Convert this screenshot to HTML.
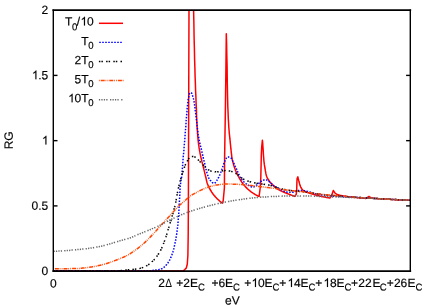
<!DOCTYPE html>
<html><head><meta charset="utf-8"><title>plot</title>
<style>
html,body{margin:0;padding:0;background:#fff;}
svg{display:block;}
text{font-family:"Liberation Sans",sans-serif;font-size:12px;fill:#000;stroke:#000;stroke-width:0.18px;}
.s{font-size:9.6px;}
.h{fill:none;stroke:none;}
.g{fill:#000;stroke:#000;stroke-width:30;}
</style></head><body>
<svg width="436" height="305" viewBox="0 0 436 305">
<rect x="0" y="0" width="436" height="305" fill="#fff"/>
<defs><clipPath id="c"><rect x="53.3" y="10.15" width="357.0" height="261.0"/></clipPath></defs>
<g clip-path="url(#c)" fill="none" stroke-width="1.5" stroke-linejoin="round">
<polyline stroke="#ff0000" points="53.5,271.1 183.0,271.1 184.8,269.6 186.3,268.0 187.3,264.0 187.9,255.0 188.2,235.0 188.4,200.0 188.7,100.0 189.0,10.0 190.8,-400.0 193.6,10.0 193.9,24.2 194.1,37.2 194.4,48.9 194.6,59.2 194.9,68.2 195.1,76.4 195.4,83.9 195.6,90.8 195.9,96.9 196.1,103.0 196.4,109.4 196.6,116.3 196.9,122.5 197.1,127.2 197.4,131.2 197.6,134.7 197.9,137.8 198.1,140.3 198.4,142.5 198.6,144.5 198.9,146.2 199.1,147.9 199.4,149.4 199.6,150.8 199.9,152.2 200.1,153.6 200.4,154.8 200.6,156.0 200.9,157.2 201.2,158.2 201.4,159.3 201.7,160.4 201.9,161.4 202.2,162.5 202.4,163.5 202.7,164.5 202.9,165.6 203.2,166.6 203.4,167.6 203.7,168.6 203.9,169.6 204.2,170.6 204.4,171.6 204.7,172.6 204.9,173.6 205.2,174.7 205.4,175.7 205.7,176.7 205.9,177.8 206.2,178.9 206.4,180.1 206.7,181.2 206.9,182.2 207.2,183.0 207.4,183.7 207.7,184.4 208.0,185.0 208.2,185.7 208.5,186.2 208.7,186.8 209.0,187.3 209.2,187.8 209.5,188.3 209.7,188.8 210.0,189.2 210.2,189.7 210.5,190.1 210.7,190.5 211.0,190.9 211.2,191.3 211.5,191.7 211.7,192.1 212.0,192.5 212.2,192.9 212.5,193.2 212.7,193.6 213.0,193.9 213.2,194.3 213.5,194.6 213.7,194.9 214.0,195.2 214.2,195.5 214.5,195.8 214.7,196.1 215.0,196.4 215.3,196.7 215.5,197.0 215.8,197.3 216.0,197.5 216.3,197.8 216.5,198.1 216.8,198.3 217.0,198.6 217.3,198.8 217.5,199.1 217.8,199.3 218.0,199.5 218.3,199.8 218.5,200.0 218.8,200.2 219.0,200.5 219.3,200.7 219.5,200.9 219.8,201.1 220.0,201.4 220.3,201.6 220.5,201.8 220.8,202.0 221.0,202.2 221.3,202.4 221.5,202.6 221.8,202.8 222.0,203.0 222.3,203.2 223.2,200.7 224.4,187.8 224.6,158.0 225.3,115.0 225.9,70.0 226.3,33.7 226.6,43.2 226.8,54.3 227.1,66.8 227.3,83.4 227.6,98.2 227.8,106.4 228.1,113.0 228.3,118.6 228.6,123.3 228.8,127.3 229.1,130.7 229.3,133.5 229.6,135.9 229.8,138.2 230.1,140.6 230.3,143.1 230.6,145.7 230.8,148.2 231.1,150.5 231.3,152.7 231.6,154.9 231.8,156.8 232.1,158.3 232.3,159.7 232.6,160.9 232.8,161.9 233.1,162.9 233.3,163.8 233.6,164.7 233.8,165.5 234.1,166.3 234.3,167.1 234.6,167.8 234.8,168.5 235.1,169.1 235.3,169.8 235.6,170.4 235.8,171.0 236.1,171.6 236.3,172.1 236.6,172.7 236.8,173.2 237.1,173.8 237.3,174.3 237.6,174.8 237.8,175.3 238.1,175.8 238.3,176.3 238.6,176.8 238.8,177.2 239.1,177.7 239.3,178.1 239.6,178.5 239.8,179.0 240.1,179.4 240.3,179.8 240.6,180.2 240.8,180.6 241.1,181.0 241.3,181.4 241.6,181.7 241.8,182.1 242.1,182.5 242.3,182.8 242.6,183.2 242.8,183.5 243.1,183.8 243.3,184.2 243.6,184.5 243.8,184.8 244.1,185.1 244.3,185.4 244.6,185.7 244.8,186.0 245.1,186.3 245.3,186.6 245.6,186.8 245.8,187.1 246.1,187.4 246.3,187.6 246.6,187.9 246.8,188.1 247.1,188.4 247.3,188.6 247.6,188.8 247.8,189.1 248.1,189.3 248.3,189.5 248.6,189.8 248.8,190.0 249.1,190.2 249.3,190.4 249.6,190.6 249.8,190.8 250.1,191.0 250.3,191.2 250.6,191.4 250.8,191.6 251.1,191.8 251.3,192.0 251.6,192.1 251.8,192.3 252.1,192.5 252.3,192.7 252.6,192.8 252.8,193.0 253.1,193.2 253.3,193.3 253.6,193.5 253.8,193.7 254.1,193.8 254.3,194.0 254.6,194.1 254.8,194.3 255.1,194.5 255.3,194.6 255.6,194.7 255.8,194.9 256.1,195.0 256.3,195.2 256.6,195.3 256.8,195.4 257.1,195.6 257.3,195.7 257.6,195.8 257.8,195.9 258.1,196.1 258.3,196.2 258.6,196.3 258.8,196.4 259.1,196.5 260.2,188.0 260.8,178.0 261.1,165.0 261.3,155.0 261.7,147.0 262.4,140.2 262.7,143.2 262.9,146.6 263.2,150.4 263.4,154.6 263.7,158.0 263.9,160.8 264.2,163.1 264.4,164.9 264.7,166.5 264.9,168.0 265.2,169.5 265.4,170.9 265.7,172.4 265.9,173.7 266.2,174.9 266.4,175.8 266.7,176.5 266.9,177.1 267.2,177.6 267.4,178.1 267.7,178.6 267.9,179.0 268.2,179.4 268.4,179.8 268.7,180.2 268.9,180.6 269.2,181.0 269.4,181.3 269.7,181.7 269.9,182.0 270.2,182.3 270.4,182.6 270.7,182.9 270.9,183.2 271.2,183.5 271.4,183.8 271.7,184.0 271.9,184.3 272.2,184.6 272.4,184.8 272.7,185.1 272.9,185.3 273.2,185.6 273.5,185.8 273.7,186.0 274.0,186.3 274.2,186.5 274.5,186.7 274.7,186.9 275.0,187.1 275.2,187.3 275.5,187.5 275.7,187.7 276.0,187.9 276.2,188.1 276.5,188.3 276.7,188.4 277.0,188.6 277.2,188.8 277.5,188.9 277.7,189.1 278.0,189.2 278.2,189.4 278.5,189.5 278.7,189.7 279.0,189.8 279.2,190.0 279.5,190.1 279.7,190.2 280.0,190.4 280.2,190.5 280.5,190.6 280.7,190.8 281.0,190.9 281.2,191.0 281.5,191.1 281.7,191.2 282.0,191.4 282.2,191.5 282.5,191.6 282.7,191.7 283.0,191.8 283.2,191.9 283.5,192.0 283.7,192.1 284.0,192.3 284.3,192.4 284.5,192.5 284.8,192.6 285.0,192.7 285.3,192.8 285.5,192.9 285.8,193.0 286.0,193.1 286.3,193.2 286.5,193.3 286.8,193.4 287.0,193.5 287.3,193.6 287.5,193.7 287.8,193.8 288.0,193.9 288.3,194.0 288.5,194.0 288.8,194.1 289.0,194.2 289.3,194.3 289.5,194.4 289.8,194.5 290.0,194.6 290.3,194.7 290.5,194.8 290.8,194.9 291.0,195.0 291.3,195.1 291.5,195.2 291.8,195.3 292.0,195.4 292.3,195.5 292.5,195.6 292.8,195.7 293.0,195.7 293.3,195.8 293.5,195.9 293.8,196.0 294.0,196.1 294.3,196.2 294.5,196.3 294.8,196.4 296.2,194.3 296.7,190.0 296.9,182.0 297.1,178.5 297.9,176.9 298.1,178.1 298.4,179.2 298.6,180.2 298.9,181.2 299.1,182.1 299.4,183.0 299.6,183.9 299.9,184.8 300.1,185.6 300.4,186.3 300.6,186.8 300.9,187.3 301.1,187.8 301.4,188.2 301.6,188.6 301.9,189.0 302.1,189.3 302.4,189.6 302.6,189.9 302.9,190.1 303.1,190.3 303.4,190.5 303.6,190.7 303.9,190.9 304.1,191.0 304.4,191.2 304.6,191.3 304.9,191.4 305.1,191.5 305.4,191.7 305.6,191.8 305.9,191.9 306.1,192.0 306.4,192.1 306.6,192.2 306.9,192.3 307.1,192.4 307.4,192.4 307.6,192.5 307.9,192.6 308.1,192.7 308.4,192.8 308.6,192.9 308.9,192.9 309.1,193.0 309.4,193.1 309.6,193.2 309.9,193.3 310.1,193.3 310.4,193.4 310.6,193.5 310.9,193.6 311.1,193.7 311.4,193.8 311.6,193.8 311.9,193.9 312.1,194.0 312.4,194.1 312.6,194.1 312.9,194.2 313.1,194.3 313.4,194.4 313.6,194.4 313.9,194.5 314.1,194.6 314.4,194.7 314.6,194.7 314.9,194.8 315.1,194.9 315.4,195.0 315.6,195.0 315.9,195.1 316.1,195.2 316.4,195.2 316.6,195.3 316.9,195.4 317.1,195.4 317.4,195.5 317.6,195.5 317.9,195.6 318.1,195.7 318.4,195.7 318.6,195.8 318.9,195.8 319.1,195.9 319.4,196.0 319.6,196.0 319.9,196.1 320.1,196.1 320.4,196.2 320.6,196.2 320.9,196.3 321.1,196.4 321.4,196.4 321.6,196.5 321.9,196.5 322.1,196.6 322.4,196.6 322.6,196.7 322.9,196.7 323.1,196.8 323.4,196.8 323.6,196.9 323.9,196.9 324.1,197.0 324.4,197.0 324.6,197.1 324.9,197.1 325.1,197.2 325.4,197.2 325.6,197.3 325.9,197.3 326.1,197.4 326.4,197.4 326.6,197.5 326.9,197.5 327.1,197.6 327.4,197.6 327.6,197.6 327.9,197.7 328.1,197.7 328.4,197.8 328.6,197.8 328.9,197.8 329.1,197.9 329.4,197.9 329.6,198.0 329.9,198.0 331.5,196.0 333.3,190.4 333.6,190.8 333.8,191.2 334.1,191.6 334.3,192.0 334.6,192.3 334.8,192.7 335.1,193.0 335.3,193.3 335.6,193.5 335.8,193.7 336.1,193.9 336.3,194.0 336.6,194.1 336.8,194.3 337.1,194.4 337.3,194.5 337.6,194.6 337.8,194.7 338.1,194.8 338.3,194.8 338.6,194.9 338.8,195.0 339.1,195.1 339.3,195.1 339.6,195.2 339.8,195.3 340.1,195.3 340.3,195.4 340.6,195.4 340.8,195.5 341.1,195.5 341.3,195.6 341.6,195.6 341.9,195.7 342.1,195.7 342.4,195.8 342.6,195.8 342.9,195.9 343.1,195.9 343.4,196.0 343.6,196.0 343.9,196.1 344.1,196.1 344.4,196.1 344.6,196.2 344.9,196.2 345.1,196.3 345.4,196.3 345.6,196.3 345.9,196.4 346.1,196.4 346.4,196.4 346.6,196.5 346.9,196.5 347.1,196.5 347.4,196.6 347.6,196.6 347.9,196.6 348.1,196.7 348.4,196.7 348.6,196.7 348.9,196.8 349.1,196.8 349.4,196.8 349.6,196.9 349.9,196.9 350.2,196.9 350.4,196.9 350.7,197.0 350.9,197.0 351.2,197.0 351.4,197.1 351.7,197.1 351.9,197.1 352.2,197.2 352.4,197.2 352.7,197.2 352.9,197.2 353.2,197.3 353.4,197.3 353.7,197.3 353.9,197.4 354.2,197.4 354.4,197.4 354.7,197.4 354.9,197.5 355.2,197.5 355.4,197.5 355.7,197.5 355.9,197.6 356.2,197.6 356.4,197.6 356.7,197.6 356.9,197.7 357.2,197.7 357.4,197.7 357.7,197.7 358.0,197.8 358.2,197.8 358.5,197.8 358.7,197.8 359.0,197.9 359.2,197.9 359.5,197.9 359.7,197.9 360.0,198.0 360.2,198.0 360.5,198.0 360.7,198.0 361.0,198.0 361.2,198.1 361.5,198.1 361.7,198.1 362.0,198.1 362.2,198.1 362.5,198.2 362.7,198.2 363.0,198.2 363.2,198.2 363.5,198.2 363.7,198.3 364.0,198.3 364.2,198.3 364.5,198.3 364.7,198.3 365.0,198.3 365.2,198.4 365.5,198.4 365.7,198.4 366.0,198.4 369.0,196.5 369.5,196.8 370.0,197.1 370.5,197.4 371.0,197.7 371.5,197.9 372.0,198.0 372.5,198.1 373.0,198.1 373.5,198.2 374.0,198.3 374.5,198.3 375.0,198.4 375.5,198.4 376.0,198.5 376.5,198.5 377.0,198.6 377.5,198.6 378.0,198.7 378.5,198.7 379.0,198.7 379.5,198.7 380.0,198.8 380.5,198.8 381.0,198.8 381.5,198.9 382.0,198.9 382.5,198.9 383.0,198.9 383.5,199.0 384.0,199.0 384.5,199.0 385.0,199.0 385.5,199.1 386.0,199.1 386.5,199.1 387.0,199.1 387.5,199.2 388.0,199.2 388.5,199.2 389.0,199.3 389.5,199.3 390.0,199.3 390.5,199.4 391.0,199.4 391.5,199.5 392.0,199.5 392.5,199.5 393.0,199.6 393.5,199.6 394.0,199.6 394.5,199.7 395.0,199.7 395.5,199.7 396.0,199.8 396.5,199.8 397.0,199.8 397.5,199.9 398.0,199.9 398.5,199.9 399.0,199.9 399.5,200.0 400.0,200.0 400.5,200.0 401.0,200.1 401.5,200.1 402.0,200.1 402.5,200.2 403.0,200.2 405.0,199.6 407.0,200.2 410.0,200.3"/>
<polyline stroke="#0000ff" stroke-width="1.5" stroke-dasharray="1.5 1.5" points="53.5,271.1 150.0,271.1 150.2,271.1 150.5,271.0 150.8,270.9 151.0,270.9 151.2,270.8 151.5,270.8 151.8,270.7 152.0,270.6 152.2,270.6 152.5,270.5 152.8,270.5 153.0,270.4 153.2,270.4 153.5,270.3 153.8,270.3 154.0,270.2 154.2,270.2 154.5,270.2 154.8,270.1 155.0,270.1 155.2,270.1 155.5,270.0 155.8,270.0 156.0,270.0 156.2,270.0 156.5,270.0 156.8,269.9 157.0,269.9 157.2,269.9 157.5,269.9 157.8,269.8 158.0,269.8 158.2,269.8 158.5,269.7 158.8,269.7 159.0,269.6 159.2,269.6 159.5,269.5 159.8,269.5 160.0,269.4 160.2,269.3 160.5,269.3 160.8,269.2 161.0,269.1 161.2,269.0 161.5,268.9 161.8,268.8 162.0,268.7 162.2,268.6 162.5,268.4 162.8,268.3 163.0,268.1 163.2,267.9 163.5,267.7 163.8,267.5 164.0,267.3 164.2,267.1 164.5,266.8 164.8,266.6 165.0,266.4 165.2,266.1 165.5,265.8 165.8,265.6 166.0,265.3 166.2,265.0 166.5,264.7 166.8,264.5 167.0,264.2 167.2,263.9 167.5,263.5 167.8,263.2 168.0,262.8 168.2,262.4 168.5,262.0 168.8,261.6 169.0,261.2 169.2,260.8 169.5,260.3 169.8,259.8 170.0,259.3 170.2,258.8 170.5,258.3 170.8,257.7 171.0,257.1 171.2,256.6 171.5,256.0 171.8,255.3 172.0,254.6 172.2,253.9 172.5,253.1 172.8,252.3 173.0,251.5 173.2,250.6 173.5,249.7 173.8,248.7 174.0,247.7 174.2,246.7 174.5,245.6 174.8,244.5 175.0,243.3 175.2,242.1 175.5,240.9 175.8,239.5 176.0,238.2 176.2,236.7 176.5,235.1 176.8,233.5 177.0,231.7 177.2,229.7 177.5,227.7 177.8,225.5 178.0,222.9 178.2,219.9 178.5,216.4 178.8,212.6 179.0,208.6 179.2,204.5 179.5,199.9 179.8,194.6 180.0,189.6 180.2,186.2 180.5,183.9 180.8,182.1 181.0,180.6 181.2,179.3 181.5,177.8 181.8,176.1 182.0,173.9 182.2,170.8 182.5,166.9 182.8,163.0 183.0,159.8 183.2,157.0 183.5,154.4 183.8,151.7 184.0,148.8 184.2,145.8 184.5,142.7 184.8,139.6 185.0,136.4 185.2,133.2 185.5,130.0 185.8,126.7 186.0,123.4 186.2,120.0 186.5,116.7 186.8,113.5 187.0,110.7 187.2,108.0 187.5,105.4 187.8,103.0 188.0,100.8 188.2,99.1 188.5,97.7 188.8,96.4 189.0,95.2 189.2,94.3 189.5,93.6 189.8,93.3 190.0,93.1 190.2,92.9 190.5,92.7 190.8,92.7 191.0,92.6 191.2,92.7 191.5,93.0 191.8,93.5 192.0,94.2 192.2,94.9 192.5,95.6 192.8,96.3 193.0,97.1 193.2,97.9 193.5,98.9 193.8,99.9 194.0,101.1 194.2,102.6 194.5,104.4 194.8,106.3 195.0,108.3 195.2,110.2 195.5,112.1 195.8,114.1 196.0,116.1 196.2,118.2 196.5,120.4 196.8,122.5 197.0,124.7 197.2,126.8 197.5,128.9 197.8,130.9 198.0,132.8 198.2,134.7 198.5,136.4 198.8,138.0 199.0,139.5 199.2,140.8 199.5,141.9 199.8,143.0 200.0,144.0 200.2,144.9 200.5,145.9 200.8,146.8 201.0,147.8 201.2,148.8 201.5,149.9 201.8,151.0 202.0,152.1 202.2,153.3 202.5,154.4 202.8,155.6 203.0,156.7 203.2,157.8 203.5,158.8 203.8,159.9 204.0,160.9 204.2,161.9 204.5,162.9 204.8,163.9 205.0,164.9 205.2,165.9 205.5,166.9 205.8,168.0 206.0,169.1 206.2,170.2 206.5,171.2 206.8,172.2 207.0,173.1 207.2,173.9 207.5,174.7 207.8,175.5 208.0,176.2 208.2,176.9 208.5,177.5 208.8,178.1 209.0,178.5 209.2,178.9 209.5,179.2 209.8,179.6 210.0,179.9 210.2,180.3 210.5,180.6 210.8,180.9 211.0,181.2 211.2,181.5 211.5,181.8 211.8,182.0 212.0,182.2 212.2,182.5 212.5,182.7 212.8,182.8 213.0,183.0 213.2,183.1 213.5,183.2 213.8,183.3 214.0,183.3 214.2,183.3 214.5,183.3 214.8,183.1 215.0,183.0 215.2,182.7 215.5,182.5 215.8,182.2 216.0,181.8 216.2,181.5 216.5,181.1 216.8,180.6 217.0,180.2 217.2,179.8 217.5,179.3 217.8,178.9 218.0,178.5 218.2,178.1 218.5,177.6 218.8,177.1 219.0,176.5 219.2,176.0 219.5,175.4 219.8,174.8 220.0,174.2 220.2,173.6 220.5,172.9 220.8,172.3 221.0,171.7 221.2,171.0 221.5,170.4 221.8,169.7 222.0,169.0 222.2,168.3 222.5,167.6 222.8,166.9 223.0,166.2 223.2,165.6 223.5,164.8 223.8,164.1 224.0,163.3 224.2,162.6 224.5,161.9 224.8,161.3 225.0,160.7 225.2,160.2 225.5,159.7 225.8,159.2 226.0,158.8 226.2,158.3 226.5,157.9 226.8,157.6 227.0,157.3 227.2,157.1 227.5,157.0 227.8,157.0 228.0,157.0 228.2,157.0 228.5,157.1 228.8,157.1 229.0,157.2 229.2,157.3 229.5,157.4 229.8,157.5 230.0,157.6 230.2,157.7 230.5,157.8 230.8,157.9 231.0,158.1 231.2,158.3 231.5,158.6 231.8,159.0 232.0,159.5 232.2,160.0 232.5,160.6 232.8,161.1 233.0,161.7 233.2,162.2 233.5,162.7 233.8,163.2 234.0,163.7 234.2,164.2 234.5,164.7 234.8,165.3 235.0,165.8 235.2,166.3 235.5,166.9 235.8,167.4 236.0,168.0 236.2,168.5 236.5,169.0 236.8,169.6 237.0,170.2 237.2,170.8 237.5,171.4 237.8,172.0 238.0,172.6 238.2,173.2 238.5,173.8 238.8,174.3 239.0,174.9 239.2,175.4 239.5,175.9 239.8,176.3 240.0,176.8 240.2,177.2 240.5,177.6 240.8,178.0 241.0,178.3 241.2,178.7 241.5,179.1 241.8,179.4 242.0,179.8 242.2,180.1 242.5,180.4 242.8,180.7 243.0,181.0 243.2,181.2 243.5,181.5 243.8,181.7 244.0,182.0 244.2,182.2 244.5,182.4 244.8,182.7 245.0,182.9 245.2,183.1 245.5,183.3 245.8,183.5 246.0,183.7 246.2,183.9 246.5,184.1 246.8,184.2 247.0,184.4 247.2,184.6 247.5,184.7 247.8,184.9 248.0,185.1 248.2,185.2 248.5,185.3 248.8,185.5 249.0,185.6 249.2,185.7 249.5,185.9 249.8,186.0 250.0,186.2 250.2,186.3 250.5,186.4 250.8,186.6 251.0,186.7 251.2,186.8 251.5,186.9 251.8,187.0 252.0,187.0 252.2,187.1 252.5,187.1 252.8,187.1 253.0,187.1 253.2,187.0 253.5,187.0 253.8,186.9 254.0,186.8 254.2,186.7 254.5,186.6 254.8,186.4 255.0,186.3 255.2,186.1 255.5,186.0 255.8,185.8 256.0,185.6 256.2,185.4 256.5,185.2 256.8,185.1 257.0,184.9 257.2,184.7 257.5,184.5 257.8,184.3 258.0,184.2 258.2,184.0 258.5,183.7 258.8,183.5 259.0,183.3 259.2,183.0 259.5,182.8 259.8,182.5 260.0,182.3 260.2,182.1 260.5,181.8 260.8,181.6 261.0,181.4 261.2,181.3 261.5,181.1 261.8,181.0 262.0,180.9 262.2,180.7 262.5,180.6 262.8,180.5 263.0,180.4 263.2,180.3 263.5,180.2 263.8,180.1 264.0,180.0 264.2,180.0 264.5,179.9 264.8,179.9 265.0,179.8 265.2,179.8 265.5,179.8 265.8,179.8 266.0,179.9 266.2,179.9 266.5,180.0 266.8,180.1 267.0,180.2 267.2,180.3 267.5,180.5 267.8,180.6 268.0,180.8 268.2,180.9 268.5,181.1 268.8,181.3 269.0,181.4 269.2,181.6 269.5,181.8 269.8,181.9 270.0,182.1 270.2,182.3 270.5,182.5 270.8,182.8 271.0,183.0 271.2,183.2 271.5,183.5 271.8,183.7 272.0,184.0 272.2,184.2 272.5,184.5 272.8,184.7 273.0,185.0 273.2,185.2 273.5,185.4 273.8,185.6 274.0,185.8 274.2,186.0 274.5,186.2 274.8,186.4 275.0,186.5 275.2,186.7 275.5,186.8 275.8,186.9 276.0,187.1 276.2,187.2 276.5,187.3 276.8,187.5 277.0,187.6 277.2,187.7 277.5,187.8 277.8,187.9 278.0,188.0 278.2,188.2 278.5,188.3 278.8,188.4 279.0,188.5 279.2,188.6 279.5,188.7 279.8,188.8 280.0,189.0 280.2,189.1 280.5,189.2 280.8,189.3 281.0,189.5 281.2,189.6 281.5,189.7 281.8,189.9 282.0,190.0 282.2,190.2 282.5,190.3 282.8,190.5 283.0,190.6 283.2,190.8 283.5,190.9 283.8,191.1 284.0,191.2 284.2,191.3 284.5,191.4 284.8,191.5 285.0,191.6 285.2,191.7 285.5,191.8 285.8,191.8 286.0,191.9 286.2,191.9 286.5,192.0 286.8,192.1 287.0,192.1 287.2,192.1 287.5,192.2 287.8,192.2 288.0,192.2 288.2,192.2 288.5,192.2 288.8,192.2 289.0,192.2 289.2,192.2 289.5,192.2 289.8,192.2 290.0,192.2 290.2,192.2 290.5,192.2 290.8,192.2 291.0,192.2 291.2,192.2 291.5,192.2 291.8,192.2 292.0,192.2 292.2,192.2 292.5,192.2 292.8,192.2 293.0,192.2 293.2,192.2 293.5,192.2 293.8,192.2 294.0,192.2 294.2,192.1 294.5,192.0 294.8,191.9 295.0,191.7 295.2,191.6 295.5,191.4 295.8,191.2 296.0,191.1 296.2,191.0 296.5,190.9 296.8,190.8 297.0,190.8 297.2,190.7 297.5,190.7 297.8,190.7 298.0,190.6 298.2,190.6 298.5,190.6 298.8,190.5 299.0,190.5 299.2,190.5 299.5,190.5 299.8,190.5 300.0,190.5 300.2,190.5 300.5,190.5 300.8,190.5 301.0,190.5 301.2,190.5 301.5,190.5 301.8,190.6 302.0,190.6 302.2,190.6 302.5,190.6 302.8,190.6 303.0,190.6 303.2,190.6 303.5,190.7 303.8,190.7 304.0,190.7 304.2,190.8 304.5,190.8 304.8,190.9 305.0,190.9 305.2,190.9 305.5,191.0 305.8,191.0 306.0,191.1 306.2,191.1 306.5,191.2 306.8,191.2 307.0,191.3 307.2,191.4 307.5,191.4 307.8,191.5 308.0,191.5 308.2,191.6 308.5,191.6 308.8,191.7 309.0,191.8 309.2,191.8 309.5,191.9 309.8,192.0 310.0,192.1 310.2,192.1 310.5,192.2 310.8,192.3 311.0,192.4 311.2,192.4 311.5,192.5 311.8,192.6 312.0,192.7 312.2,192.8 312.5,192.8 312.8,192.9 313.0,193.0 313.2,193.1 313.5,193.2 313.8,193.2 314.0,193.3 314.2,193.4 314.5,193.5 314.8,193.5 315.0,193.6 315.2,193.7 315.5,193.7 315.8,193.8 316.0,193.9 316.2,193.9 316.5,194.0 316.8,194.0 317.0,194.1 317.2,194.2 317.5,194.2 317.8,194.2 318.0,194.3 318.2,194.3 318.5,194.4 318.8,194.4 319.0,194.5 319.2,194.5 319.5,194.6 319.8,194.6 320.0,194.6 320.2,194.7 320.5,194.7 320.8,194.8 321.0,194.8 321.2,194.8 321.5,194.9 321.8,194.9 322.0,195.0 322.2,195.0 322.5,195.0 322.8,195.1 323.0,195.1 323.2,195.1 323.5,195.2 323.8,195.2 324.0,195.2 324.2,195.3 324.5,195.3 324.8,195.3 325.0,195.4 325.2,195.4 325.5,195.4 325.8,195.5 326.0,195.5 326.2,195.5 326.5,195.6 326.8,195.6 327.0,195.6 327.2,195.6 327.5,195.7 327.8,195.7 328.0,195.7 328.2,195.7 328.5,195.8 328.8,195.8 329.0,195.8 329.2,195.8 329.5,195.9 329.8,195.9 330.0,195.9 330.2,195.9 330.5,195.9 330.8,196.0 331.0,196.0 331.2,196.0 331.5,196.0 331.8,196.0 332.0,196.0 332.2,196.1 332.5,196.1 332.8,196.1 333.0,196.1 333.2,196.1 333.5,196.1 333.8,196.2 334.0,196.2 334.2,196.2 334.5,196.2 334.8,196.2 335.0,196.2 335.2,196.2 335.5,196.3 335.8,196.3 336.0,196.3 336.2,196.3 336.5,196.3 336.8,196.3 337.0,196.3 337.2,196.3 337.5,196.4 337.8,196.4 338.0,196.4 338.2,196.4 338.5,196.4 338.8,196.4 339.0,196.4 339.2,196.4 339.5,196.4 339.8,196.5 340.0,196.5 340.2,196.5 340.5,196.5 340.8,196.5 341.0,196.5 341.2,196.5 341.5,196.5 341.8,196.5 342.0,196.5 342.2,196.6 342.5,196.6 342.8,196.6 343.0,196.6 343.2,196.6 343.5,196.6 343.8,196.6 344.0,196.6 344.2,196.6 344.5,196.6 344.8,196.7 345.0,196.7 345.2,196.7 345.5,196.7 345.8,196.7 346.0,196.7 346.2,196.7 346.5,196.7 346.8,196.7 347.0,196.8 347.2,196.8 347.5,196.8 347.8,196.8 348.0,196.8 348.2,196.8 348.5,196.8 348.8,196.8 349.0,196.8 349.2,196.9 349.5,196.9 349.8,196.9 350.0,196.9 350.2,196.9 350.5,196.9 350.8,196.9 351.0,197.0 351.2,197.0 351.5,197.0 351.8,197.0 352.0,197.0 352.2,197.0 352.5,197.0 352.8,197.1 353.0,197.1 353.2,197.1 353.5,197.1 353.8,197.1 354.0,197.1 354.2,197.1 354.5,197.2 354.8,197.2 355.0,197.2 355.2,197.2 355.5,197.2 355.8,197.2 356.0,197.3 356.2,197.3 356.5,197.3 356.8,197.3 357.0,197.3 357.2,197.3 357.5,197.4 357.8,197.4 358.0,197.4 358.2,197.4 358.5,197.4 358.8,197.4 359.0,197.5 359.2,197.5 359.5,197.5 359.8,197.5 360.0,197.5 360.2,197.5 360.5,197.6 360.8,197.6 361.0,197.6 361.2,197.6 361.5,197.6 361.8,197.6 362.0,197.7 362.2,197.7 362.5,197.7 362.8,197.7 363.0,197.7 363.2,197.7 363.5,197.8 363.8,197.8 364.0,197.8 364.2,197.8 364.5,197.8 364.8,197.8 365.0,197.8 365.2,197.9 365.5,197.9 365.8,197.9 366.0,197.9 366.2,197.9 366.5,197.9 366.8,198.0 367.0,198.0 367.2,198.0 367.5,198.0 367.8,198.0 368.0,198.0 368.2,198.1 368.5,198.1 368.8,198.1 369.0,198.1 369.2,198.1 369.5,198.1 369.8,198.1 370.0,198.2 370.2,198.2 370.5,198.2 370.8,198.2 371.0,198.2 371.2,198.2 371.5,198.3 371.8,198.3 372.0,198.3 372.2,198.3 372.5,198.3 372.8,198.3 373.0,198.3 373.2,198.4 373.5,198.4 373.8,198.4 374.0,198.4 374.2,198.4 374.5,198.4 374.8,198.4 375.0,198.5 375.2,198.5 375.5,198.5 375.8,198.5 376.0,198.5 376.2,198.5 376.5,198.6 376.8,198.6 377.0,198.6 377.2,198.6 377.5,198.6 377.8,198.6 378.0,198.6 378.2,198.7 378.5,198.7 378.8,198.7 379.0,198.7 379.2,198.7 379.5,198.7 379.8,198.7 380.0,198.8 380.2,198.8 380.5,198.8 380.8,198.8 381.0,198.8 381.2,198.8 381.5,198.8 381.8,198.9 382.0,198.9 382.2,198.9 382.5,198.9 382.8,198.9 383.0,198.9 383.2,198.9 383.5,199.0 383.8,199.0 384.0,199.0 384.2,199.0 384.5,199.0 384.8,199.0 385.0,199.0 385.2,199.1 385.5,199.1 385.8,199.1 386.0,199.1 386.2,199.1 386.5,199.1 386.8,199.1 387.0,199.2 387.2,199.2 387.5,199.2 387.8,199.2 388.0,199.2 388.2,199.2 388.5,199.2 388.8,199.2 389.0,199.3 389.2,199.3 389.5,199.3 389.8,199.3 390.0,199.3 390.2,199.3 390.5,199.3 390.8,199.4 391.0,199.4 391.2,199.4 391.5,199.4 391.8,199.4 392.0,199.4 392.2,199.4 392.5,199.4 392.8,199.5 393.0,199.5 393.2,199.5 393.5,199.5 393.8,199.5 394.0,199.5 394.2,199.5 394.5,199.5 394.8,199.6 395.0,199.6 395.2,199.6 395.5,199.6 395.8,199.6 396.0,199.6 396.2,199.6 396.5,199.7 396.8,199.7 397.0,199.7 397.2,199.7 397.5,199.7 397.8,199.7 398.0,199.7 398.2,199.7 398.5,199.8 398.8,199.8 399.0,199.8 399.2,199.8 399.5,199.8 399.8,199.8 400.0,199.8 400.2,199.8 400.5,199.9 400.8,199.9 401.0,199.9 401.2,199.9 401.5,199.9 401.8,199.9 402.0,199.9 402.2,199.9 402.5,199.9 402.8,200.0 403.0,200.0 403.2,200.0 403.5,200.0 403.8,200.0 404.0,200.0 404.2,200.0 404.5,200.0 404.8,200.1 405.0,200.1 405.2,200.1 405.5,200.1 405.8,200.1 406.0,200.1 406.2,200.1 406.5,200.1 406.8,200.2 407.0,200.2 407.2,200.2 407.5,200.2 407.8,200.2 408.0,200.2 408.2,200.2 408.5,200.2 408.8,200.2 409.0,200.3 409.2,200.3 409.5,200.3 409.8,200.3 410.0,200.3"/>
<polyline stroke="#000000" stroke-dasharray="1.5 1 1.5 3.2" points="53.5,271.1 118.0,271.1 118.2,271.1 118.5,271.0 118.8,271.0 119.0,270.9 119.2,270.9 119.5,270.8 119.8,270.8 120.0,270.7 120.2,270.7 120.5,270.6 120.8,270.6 121.0,270.6 121.2,270.5 121.5,270.5 121.8,270.4 122.0,270.4 122.2,270.3 122.5,270.3 122.8,270.3 123.0,270.2 123.2,270.2 123.5,270.2 123.8,270.1 124.0,270.1 124.2,270.1 124.5,270.1 124.8,270.0 125.0,270.0 125.2,270.0 125.5,270.0 125.8,269.9 126.0,269.9 126.2,269.9 126.5,269.9 126.8,269.9 127.0,269.9 127.2,269.8 127.5,269.8 127.8,269.8 128.0,269.8 128.2,269.8 128.5,269.8 128.8,269.8 129.0,269.7 129.2,269.7 129.5,269.7 129.8,269.7 130.0,269.7 130.2,269.7 130.5,269.6 130.8,269.6 131.0,269.6 131.2,269.6 131.5,269.6 131.8,269.5 132.0,269.5 132.2,269.5 132.5,269.5 132.8,269.4 133.0,269.4 133.2,269.4 133.5,269.4 133.8,269.3 134.0,269.3 134.2,269.3 134.5,269.3 134.8,269.2 135.0,269.2 135.2,269.2 135.5,269.1 135.8,269.1 136.0,269.1 136.2,269.0 136.5,269.0 136.8,269.0 137.0,268.9 137.2,268.9 137.5,268.8 137.8,268.8 138.0,268.8 138.2,268.7 138.5,268.7 138.8,268.6 139.0,268.6 139.2,268.5 139.5,268.5 139.8,268.4 140.0,268.3 140.2,268.3 140.5,268.2 140.8,268.1 141.0,268.1 141.2,268.0 141.5,267.9 141.8,267.8 142.0,267.8 142.2,267.7 142.5,267.6 142.8,267.5 143.0,267.4 143.2,267.3 143.5,267.2 143.8,267.1 144.0,267.0 144.2,266.9 144.5,266.8 144.8,266.7 145.0,266.6 145.2,266.5 145.5,266.4 145.8,266.3 146.0,266.2 146.2,266.0 146.5,265.9 146.8,265.8 147.0,265.6 147.2,265.5 147.5,265.3 147.8,265.2 148.0,265.0 148.2,264.8 148.5,264.6 148.8,264.5 149.0,264.3 149.2,264.1 149.5,263.9 149.8,263.7 150.0,263.5 150.2,263.3 150.5,263.1 150.8,262.9 151.0,262.6 151.2,262.4 151.5,262.2 151.8,262.0 152.0,261.7 152.2,261.5 152.5,261.3 152.8,261.0 153.0,260.8 153.2,260.6 153.5,260.3 153.8,260.1 154.0,259.8 154.2,259.5 154.5,259.3 154.8,259.0 155.0,258.7 155.2,258.4 155.5,258.1 155.8,257.8 156.0,257.5 156.2,257.2 156.5,256.8 156.8,256.5 157.0,256.1 157.2,255.8 157.5,255.4 157.8,255.1 158.0,254.7 158.2,254.3 158.5,253.9 158.8,253.6 159.0,253.2 159.2,252.7 159.5,252.3 159.8,251.9 160.0,251.4 160.2,251.0 160.5,250.5 160.8,250.0 161.0,249.5 161.2,249.0 161.5,248.4 161.8,247.9 162.0,247.3 162.2,246.7 162.5,246.1 162.8,245.5 163.0,244.9 163.2,244.3 163.5,243.6 163.8,243.0 164.0,242.4 164.2,241.7 164.5,241.0 164.8,240.4 165.0,239.7 165.2,239.0 165.5,238.3 165.8,237.5 166.0,236.8 166.2,236.0 166.5,235.2 166.8,234.3 167.0,233.5 167.2,232.6 167.5,231.8 167.8,230.9 168.0,230.1 168.2,229.2 168.5,228.3 168.8,227.5 169.0,226.6 169.2,225.8 169.5,225.0 169.8,224.2 170.0,223.4 170.2,222.6 170.5,221.8 170.8,221.0 171.0,220.2 171.2,219.3 171.5,218.5 171.8,217.6 172.0,216.8 172.2,215.9 172.5,215.0 172.8,214.1 173.0,213.2 173.2,212.3 173.5,211.4 173.8,210.4 174.0,209.5 174.2,208.5 174.5,207.5 174.8,206.5 175.0,205.4 175.2,204.3 175.5,203.2 175.8,202.1 176.0,200.9 176.2,199.6 176.5,198.2 176.8,196.8 177.0,195.3 177.2,193.9 177.5,192.5 177.8,191.2 178.0,189.9 178.2,188.7 178.5,187.6 178.8,186.6 179.0,185.6 179.2,184.6 179.5,183.6 179.8,182.7 180.0,181.7 180.2,180.8 180.5,179.9 180.8,179.1 181.0,178.2 181.2,177.4 181.5,176.5 181.8,175.7 182.0,174.9 182.2,174.1 182.5,173.3 182.8,172.5 183.0,171.7 183.2,170.9 183.5,170.1 183.8,169.3 184.0,168.6 184.2,167.8 184.5,167.1 184.8,166.4 185.0,165.7 185.2,165.1 185.5,164.5 185.8,164.0 186.0,163.5 186.2,163.0 186.5,162.5 186.8,162.0 187.0,161.5 187.2,161.1 187.5,160.7 187.8,160.2 188.0,159.8 188.2,159.3 188.5,158.9 188.8,158.5 189.0,158.2 189.2,157.8 189.5,157.6 189.8,157.3 190.0,157.2 190.2,157.0 190.5,156.8 190.8,156.7 191.0,156.6 191.2,156.5 191.5,156.4 191.8,156.4 192.0,156.4 192.2,156.4 192.5,156.4 192.8,156.5 193.0,156.5 193.2,156.6 193.5,156.6 193.8,156.7 194.0,156.8 194.2,156.8 194.5,156.9 194.8,157.0 195.0,157.1 195.2,157.2 195.5,157.3 195.8,157.4 196.0,157.5 196.2,157.7 196.5,157.9 196.8,158.1 197.0,158.4 197.2,158.7 197.5,159.0 197.8,159.3 198.0,159.6 198.2,159.9 198.5,160.2 198.8,160.5 199.0,160.8 199.2,161.0 199.5,161.3 199.8,161.5 200.0,161.8 200.2,162.0 200.5,162.3 200.8,162.5 201.0,162.8 201.2,163.0 201.5,163.2 201.8,163.5 202.0,163.7 202.2,164.0 202.5,164.2 202.8,164.5 203.0,164.7 203.2,165.0 203.5,165.2 203.8,165.5 204.0,165.7 204.2,166.0 204.5,166.3 204.8,166.6 205.0,166.9 205.2,167.2 205.5,167.4 205.8,167.7 206.0,168.0 206.2,168.2 206.5,168.4 206.8,168.6 207.0,168.8 207.2,169.0 207.5,169.2 207.8,169.3 208.0,169.5 208.2,169.7 208.5,169.8 208.8,170.0 209.0,170.1 209.2,170.3 209.5,170.4 209.8,170.5 210.0,170.7 210.2,170.8 210.5,170.9 210.8,171.0 211.0,171.1 211.2,171.1 211.5,171.2 211.8,171.2 212.0,171.3 212.2,171.3 212.5,171.4 212.8,171.4 213.0,171.4 213.2,171.5 213.5,171.5 213.8,171.5 214.0,171.6 214.2,171.6 214.5,171.6 214.8,171.7 215.0,171.7 215.2,171.7 215.5,171.7 215.8,171.7 216.0,171.8 216.2,171.8 216.5,171.8 216.8,171.8 217.0,171.8 217.2,171.8 217.5,171.8 217.8,171.8 218.0,171.8 218.2,171.7 218.5,171.7 218.8,171.6 219.0,171.6 219.2,171.5 219.5,171.5 219.8,171.4 220.0,171.3 220.2,171.3 220.5,171.2 220.8,171.1 221.0,171.1 221.2,171.0 221.5,171.0 221.8,170.9 222.0,170.9 222.2,170.8 222.5,170.8 222.8,170.8 223.0,170.8 223.2,170.7 223.5,170.7 223.8,170.7 224.0,170.7 224.2,170.7 224.5,170.7 224.8,170.6 225.0,170.6 225.2,170.6 225.5,170.6 225.8,170.6 226.0,170.6 226.2,170.6 226.5,170.6 226.8,170.6 227.0,170.6 227.2,170.6 227.5,170.7 227.8,170.7 228.0,170.7 228.2,170.8 228.5,170.8 228.8,170.8 229.0,170.9 229.2,170.9 229.5,171.0 229.8,171.0 230.0,171.1 230.2,171.1 230.5,171.2 230.8,171.2 231.0,171.3 231.2,171.4 231.5,171.5 231.8,171.5 232.0,171.6 232.2,171.7 232.5,171.8 232.8,171.9 233.0,172.1 233.2,172.2 233.5,172.3 233.8,172.4 234.0,172.5 234.2,172.7 234.5,172.8 234.8,172.9 235.0,173.0 235.2,173.2 235.5,173.3 235.8,173.4 236.0,173.6 236.2,173.7 236.5,173.9 236.8,174.0 237.0,174.2 237.2,174.3 237.5,174.5 237.8,174.7 238.0,174.8 238.2,175.0 238.5,175.2 238.8,175.4 239.0,175.5 239.2,175.7 239.5,175.9 239.8,176.1 240.0,176.3 240.2,176.5 240.5,176.7 240.8,177.0 241.0,177.2 241.2,177.5 241.5,177.7 241.8,178.0 242.0,178.2 242.2,178.4 242.5,178.6 242.8,178.7 243.0,178.9 243.2,179.0 243.5,179.2 243.8,179.3 244.0,179.4 244.2,179.6 244.5,179.7 244.8,179.8 245.0,179.9 245.2,180.0 245.5,180.2 245.8,180.3 246.0,180.4 246.2,180.5 246.5,180.6 246.8,180.7 247.0,180.8 247.2,180.9 247.5,181.0 247.8,181.0 248.0,181.1 248.2,181.2 248.5,181.3 248.8,181.4 249.0,181.5 249.2,181.5 249.5,181.6 249.8,181.7 250.0,181.8 250.2,181.8 250.5,181.9 250.8,182.0 251.0,182.0 251.2,182.1 251.5,182.2 251.8,182.2 252.0,182.3 252.2,182.4 252.5,182.4 252.8,182.5 253.0,182.5 253.2,182.6 253.5,182.6 253.8,182.7 254.0,182.7 254.2,182.8 254.5,182.8 254.8,182.9 255.0,182.9 255.2,183.0 255.5,183.0 255.8,183.1 256.0,183.1 256.2,183.2 256.5,183.2 256.8,183.3 257.0,183.3 257.2,183.3 257.5,183.4 257.8,183.4 258.0,183.5 258.2,183.5 258.5,183.5 258.8,183.6 259.0,183.6 259.2,183.6 259.5,183.7 259.8,183.7 260.0,183.8 260.2,183.8 260.5,183.8 260.8,183.9 261.0,183.9 261.2,183.9 261.5,184.0 261.8,184.0 262.0,184.0 262.2,184.1 262.5,184.1 262.8,184.1 263.0,184.2 263.2,184.2 263.5,184.2 263.8,184.3 264.0,184.3 264.2,184.3 264.5,184.4 264.8,184.4 265.0,184.4 265.2,184.5 265.5,184.5 265.8,184.5 266.0,184.6 266.2,184.6 266.5,184.6 266.8,184.7 267.0,184.7 267.2,184.7 267.5,184.8 267.8,184.8 268.0,184.9 268.2,184.9 268.5,185.0 268.8,185.0 269.0,185.1 269.2,185.2 269.5,185.2 269.8,185.3 270.0,185.4 270.2,185.4 270.5,185.5 270.8,185.6 271.0,185.7 271.2,185.7 271.5,185.8 271.8,185.9 272.0,186.0 272.2,186.1 272.5,186.2 272.8,186.2 273.0,186.3 273.2,186.4 273.5,186.5 273.8,186.6 274.0,186.6 274.2,186.7 274.5,186.8 274.8,186.9 275.0,187.0 275.2,187.0 275.5,187.1 275.8,187.2 276.0,187.3 276.2,187.3 276.5,187.4 276.8,187.5 277.0,187.6 277.2,187.7 277.5,187.7 277.8,187.8 278.0,187.9 278.2,188.0 278.5,188.1 278.8,188.1 279.0,188.2 279.2,188.3 279.5,188.3 279.8,188.4 280.0,188.5 280.2,188.5 280.5,188.6 280.8,188.7 281.0,188.7 281.2,188.8 281.5,188.8 281.8,188.9 282.0,188.9 282.2,189.0 282.5,189.1 282.8,189.1 283.0,189.2 283.2,189.2 283.5,189.3 283.8,189.3 284.0,189.4 284.2,189.4 284.5,189.5 284.8,189.5 285.0,189.6 285.2,189.6 285.5,189.7 285.8,189.7 286.0,189.8 286.2,189.8 286.5,189.9 286.8,189.9 287.0,189.9 287.2,190.0 287.5,190.0 287.8,190.1 288.0,190.1 288.2,190.2 288.5,190.2 288.8,190.2 289.0,190.3 289.2,190.3 289.5,190.4 289.8,190.4 290.0,190.4 290.2,190.5 290.5,190.5 290.8,190.5 291.0,190.6 291.2,190.6 291.5,190.6 291.8,190.7 292.0,190.7 292.2,190.7 292.5,190.8 292.8,190.8 293.0,190.8 293.2,190.8 293.5,190.9 293.8,190.9 294.0,190.9 294.2,190.9 294.5,191.0 294.8,191.0 295.0,191.0 295.2,191.0 295.5,191.1 295.8,191.1 296.0,191.1 296.2,191.1 296.5,191.1 296.8,191.2 297.0,191.2 297.2,191.2 297.5,191.2 297.8,191.2 298.0,191.3 298.2,191.3 298.5,191.3 298.8,191.3 299.0,191.4 299.2,191.4 299.5,191.4 299.8,191.4 300.0,191.4 300.2,191.5 300.5,191.5 300.8,191.5 301.0,191.5 301.2,191.5 301.5,191.6 301.8,191.6 302.0,191.6 302.2,191.6 302.5,191.7 302.8,191.7 303.0,191.7 303.2,191.7 303.5,191.8 303.8,191.8 304.0,191.8 304.2,191.9 304.5,191.9 304.8,191.9 305.0,191.9 305.2,192.0 305.5,192.0 305.8,192.1 306.0,192.1 306.2,192.1 306.5,192.2 306.8,192.2 307.0,192.2 307.2,192.3 307.5,192.3 307.8,192.4 308.0,192.4 308.2,192.4 308.5,192.5 308.8,192.5 309.0,192.6 309.2,192.6 309.5,192.6 309.8,192.7 310.0,192.7 310.2,192.8 310.5,192.8 310.8,192.9 311.0,192.9 311.2,192.9 311.5,193.0 311.8,193.0 312.0,193.1 312.2,193.1 312.5,193.2 312.8,193.2 313.0,193.2 313.2,193.3 313.5,193.3 313.8,193.4 314.0,193.4 314.2,193.4 314.5,193.5 314.8,193.5 315.0,193.6 315.2,193.6 315.5,193.6 315.8,193.7 316.0,193.7 316.2,193.7 316.5,193.8 316.8,193.8 317.0,193.8 317.2,193.9 317.5,193.9 317.8,193.9 318.0,194.0 318.2,194.0 318.5,194.0 318.8,194.0 319.0,194.1 319.2,194.1 319.5,194.1 319.8,194.2 320.0,194.2 320.2,194.2 320.5,194.2 320.8,194.3 321.0,194.3 321.2,194.3 321.5,194.4 321.8,194.4 322.0,194.4 322.2,194.4 322.5,194.5 322.8,194.5 323.0,194.5 323.2,194.5 323.5,194.6 323.8,194.6 324.0,194.6 324.2,194.6 324.5,194.7 324.8,194.7 325.0,194.7 325.2,194.7 325.5,194.8 325.8,194.8 326.0,194.8 326.2,194.8 326.5,194.9 326.8,194.9 327.0,194.9 327.2,194.9 327.5,194.9 327.8,195.0 328.0,195.0 328.2,195.0 328.5,195.0 328.8,195.1 329.0,195.1 329.2,195.1 329.5,195.1 329.8,195.2 330.0,195.2 330.2,195.2 330.5,195.2 330.8,195.2 331.0,195.3 331.2,195.3 331.5,195.3 331.8,195.3 332.0,195.4 332.2,195.4 332.5,195.4 332.8,195.4 333.0,195.5 333.2,195.5 333.5,195.5 333.8,195.5 334.0,195.6 334.2,195.6 334.5,195.6 334.8,195.6 335.0,195.6 335.2,195.7 335.5,195.7 335.8,195.7 336.0,195.7 336.2,195.8 336.5,195.8 336.8,195.8 337.0,195.8 337.2,195.8 337.5,195.9 337.8,195.9 338.0,195.9 338.2,195.9 338.5,196.0 338.8,196.0 339.0,196.0 339.2,196.0 339.5,196.0 339.8,196.1 340.0,196.1 340.2,196.1 340.5,196.1 340.8,196.2 341.0,196.2 341.2,196.2 341.5,196.2 341.8,196.2 342.0,196.3 342.2,196.3 342.5,196.3 342.8,196.3 343.0,196.3 343.2,196.4 343.5,196.4 343.8,196.4 344.0,196.4 344.2,196.5 344.5,196.5 344.8,196.5 345.0,196.5 345.2,196.5 345.5,196.6 345.8,196.6 346.0,196.6 346.2,196.6 346.5,196.6 346.8,196.7 347.0,196.7 347.2,196.7 347.5,196.7 347.8,196.7 348.0,196.8 348.2,196.8 348.5,196.8 348.8,196.8 349.0,196.8 349.2,196.8 349.5,196.9 349.8,196.9 350.0,196.9 350.2,196.9 350.5,196.9 350.8,197.0 351.0,197.0 351.2,197.0 351.5,197.0 351.8,197.0 352.0,197.0 352.2,197.1 352.5,197.1 352.8,197.1 353.0,197.1 353.2,197.1 353.5,197.1 353.8,197.2 354.0,197.2 354.2,197.2 354.5,197.2 354.8,197.2 355.0,197.2 355.2,197.3 355.5,197.3 355.8,197.3 356.0,197.3 356.2,197.3 356.5,197.3 356.8,197.4 357.0,197.4 357.2,197.4 357.5,197.4 357.8,197.4 358.0,197.4 358.2,197.5 358.5,197.5 358.8,197.5 359.0,197.5 359.2,197.5 359.5,197.5 359.8,197.5 360.0,197.6 360.2,197.6 360.5,197.6 360.8,197.6 361.0,197.6 361.2,197.6 361.5,197.7 361.8,197.7 362.0,197.7 362.2,197.7 362.5,197.7 362.8,197.7 363.0,197.7 363.2,197.8 363.5,197.8 363.8,197.8 364.0,197.8 364.2,197.8 364.5,197.8 364.8,197.8 365.0,197.9 365.2,197.9 365.5,197.9 365.8,197.9 366.0,197.9 366.2,197.9 366.5,198.0 366.8,198.0 367.0,198.0 367.2,198.0 367.5,198.0 367.8,198.0 368.0,198.0 368.2,198.1 368.5,198.1 368.8,198.1 369.0,198.1 369.2,198.1 369.5,198.1 369.8,198.1 370.0,198.2 370.2,198.2 370.5,198.2 370.8,198.2 371.0,198.2 371.2,198.2 371.5,198.3 371.8,198.3 372.0,198.3 372.2,198.3 372.5,198.3 372.8,198.3 373.0,198.3 373.2,198.4 373.5,198.4 373.8,198.4 374.0,198.4 374.2,198.4 374.5,198.4 374.8,198.4 375.0,198.5 375.2,198.5 375.5,198.5 375.8,198.5 376.0,198.5 376.2,198.5 376.5,198.5 376.8,198.6 377.0,198.6 377.2,198.6 377.5,198.6 377.8,198.6 378.0,198.6 378.2,198.7 378.5,198.7 378.8,198.7 379.0,198.7 379.2,198.7 379.5,198.7 379.8,198.7 380.0,198.8 380.2,198.8 380.5,198.8 380.8,198.8 381.0,198.8 381.2,198.8 381.5,198.8 381.8,198.9 382.0,198.9 382.2,198.9 382.5,198.9 382.8,198.9 383.0,198.9 383.2,198.9 383.5,199.0 383.8,199.0 384.0,199.0 384.2,199.0 384.5,199.0 384.8,199.0 385.0,199.0 385.2,199.0 385.5,199.1 385.8,199.1 386.0,199.1 386.2,199.1 386.5,199.1 386.8,199.1 387.0,199.1 387.2,199.2 387.5,199.2 387.8,199.2 388.0,199.2 388.2,199.2 388.5,199.2 388.8,199.2 389.0,199.3 389.2,199.3 389.5,199.3 389.8,199.3 390.0,199.3 390.2,199.3 390.5,199.3 390.8,199.3 391.0,199.4 391.2,199.4 391.5,199.4 391.8,199.4 392.0,199.4 392.2,199.4 392.5,199.4 392.8,199.5 393.0,199.5 393.2,199.5 393.5,199.5 393.8,199.5 394.0,199.5 394.2,199.5 394.5,199.5 394.8,199.6 395.0,199.6 395.2,199.6 395.5,199.6 395.8,199.6 396.0,199.6 396.2,199.6 396.5,199.6 396.8,199.7 397.0,199.7 397.2,199.7 397.5,199.7 397.8,199.7 398.0,199.7 398.2,199.7 398.5,199.7 398.8,199.8 399.0,199.8 399.2,199.8 399.5,199.8 399.8,199.8 400.0,199.8 400.2,199.8 400.5,199.8 400.8,199.9 401.0,199.9 401.2,199.9 401.5,199.9 401.8,199.9 402.0,199.9 402.2,199.9 402.5,199.9 402.8,200.0 403.0,200.0 403.2,200.0 403.5,200.0 403.8,200.0 404.0,200.0 404.2,200.0 404.5,200.0 404.8,200.1 405.0,200.1 405.2,200.1 405.5,200.1 405.8,200.1 406.0,200.1 406.2,200.1 406.5,200.1 406.8,200.1 407.0,200.2 407.2,200.2 407.5,200.2 407.8,200.2 408.0,200.2 408.2,200.2 408.5,200.2 408.8,200.2 409.0,200.3 409.2,200.3 409.5,200.3 409.8,200.3 410.0,200.3"/>
<polyline stroke="#ff4500" stroke-dasharray="4 0.8 0.8 1.2 0.8 1" points="54.9,268.9 55.4,268.8 55.9,268.8 56.4,268.8 56.9,268.8 57.4,268.8 57.9,268.8 58.4,268.8 58.9,268.8 59.4,268.8 59.9,268.8 60.4,268.8 60.9,268.8 61.4,268.8 61.9,268.8 62.4,268.8 62.9,268.8 63.4,268.8 63.9,268.8 64.4,268.8 64.9,268.8 65.4,268.8 65.9,268.7 66.4,268.7 66.9,268.7 67.4,268.7 67.9,268.7 68.4,268.7 68.9,268.7 69.4,268.7 69.9,268.7 70.4,268.7 70.9,268.6 71.4,268.6 71.9,268.6 72.4,268.6 72.9,268.6 73.4,268.6 73.9,268.6 74.4,268.5 74.9,268.5 75.4,268.5 75.9,268.5 76.4,268.5 76.9,268.5 77.4,268.5 77.9,268.4 78.4,268.4 78.9,268.4 79.4,268.4 79.9,268.3 80.4,268.3 80.9,268.2 81.4,268.2 81.9,268.2 82.4,268.1 82.9,268.1 83.4,268.0 83.9,268.0 84.4,267.9 84.9,267.8 85.4,267.8 85.9,267.7 86.4,267.6 86.9,267.6 87.4,267.5 87.9,267.4 88.4,267.4 88.9,267.3 89.4,267.2 89.9,267.2 90.4,267.1 90.9,267.0 91.4,267.0 91.9,266.9 92.4,266.8 92.9,266.7 93.4,266.6 93.9,266.5 94.4,266.4 94.9,266.4 95.4,266.3 95.9,266.2 96.4,266.1 96.9,265.9 97.4,265.8 97.9,265.7 98.4,265.6 98.9,265.5 99.4,265.4 99.9,265.3 100.4,265.2 100.9,265.0 101.4,264.9 101.9,264.8 102.4,264.7 102.9,264.5 103.4,264.4 103.9,264.3 104.4,264.2 104.9,264.0 105.4,263.9 105.9,263.7 106.4,263.6 106.9,263.5 107.4,263.3 107.9,263.1 108.4,263.0 108.9,262.8 109.4,262.6 109.9,262.5 110.4,262.3 110.9,262.1 111.4,261.9 111.9,261.7 112.4,261.6 112.9,261.4 113.4,261.2 113.9,261.0 114.4,260.8 114.9,260.6 115.4,260.4 115.9,260.2 116.4,260.0 116.9,259.8 117.4,259.7 117.9,259.5 118.4,259.3 118.9,259.1 119.4,258.9 119.9,258.7 120.4,258.5 120.9,258.3 121.4,258.1 121.9,257.8 122.4,257.6 122.9,257.4 123.4,257.2 123.9,257.0 124.4,256.7 124.9,256.5 125.4,256.2 125.9,256.0 126.4,255.7 126.9,255.5 127.4,255.2 127.9,254.9 128.4,254.7 128.9,254.4 129.4,254.1 129.9,253.8 130.4,253.5 130.9,253.2 131.4,252.9 131.9,252.5 132.4,252.2 132.9,251.9 133.4,251.6 133.9,251.2 134.4,250.9 134.9,250.5 135.4,250.2 135.9,249.8 136.4,249.5 136.9,249.1 137.4,248.7 137.9,248.3 138.4,247.9 138.9,247.5 139.4,247.1 139.9,246.7 140.4,246.3 140.9,245.9 141.4,245.5 141.9,245.0 142.4,244.6 142.9,244.2 143.4,243.7 143.9,243.3 144.4,242.8 144.9,242.4 145.4,241.9 145.9,241.4 146.4,240.9 146.9,240.5 147.4,240.0 147.9,239.5 148.4,239.0 148.9,238.4 149.4,237.9 149.9,237.4 150.4,236.9 150.9,236.4 151.4,235.9 151.9,235.3 152.4,234.8 152.9,234.3 153.4,233.7 153.9,233.2 154.4,232.7 154.9,232.1 155.4,231.6 155.9,231.0 156.4,230.5 156.9,229.9 157.4,229.3 157.9,228.8 158.4,228.2 158.9,227.6 159.4,227.1 159.9,226.5 160.4,226.0 160.9,225.4 161.4,224.9 161.9,224.3 162.4,223.8 162.9,223.2 163.4,222.7 163.9,222.2 164.4,221.6 164.9,221.1 165.4,220.6 165.9,220.0 166.4,219.5 166.9,218.9 167.4,218.4 167.9,217.9 168.4,217.3 168.9,216.8 169.4,216.2 169.9,215.7 170.4,215.1 170.9,214.6 171.4,214.0 171.9,213.4 172.4,212.9 172.9,212.3 173.4,211.7 173.9,211.2 174.4,210.6 174.9,210.0 175.4,209.5 175.9,208.9 176.4,208.4 176.9,207.9 177.4,207.4 177.9,206.9 178.4,206.4 178.9,205.9 179.4,205.4 179.9,205.0 180.4,204.5 180.9,204.1 181.4,203.7 181.9,203.3 182.4,202.8 182.9,202.4 183.4,202.0 183.9,201.6 184.4,201.1 184.9,200.7 185.4,200.2 185.9,199.8 186.4,199.3 186.9,198.8 187.4,198.4 187.9,198.0 188.4,197.5 188.9,197.1 189.4,196.7 189.9,196.3 190.4,196.0 190.9,195.6 191.4,195.3 191.9,195.0 192.4,194.7 192.9,194.4 193.4,194.1 193.9,193.8 194.4,193.6 194.9,193.3 195.4,193.0 195.9,192.8 196.4,192.5 196.9,192.2 197.4,192.0 197.9,191.7 198.4,191.4 198.9,191.2 199.4,190.9 199.9,190.7 200.4,190.4 200.9,190.2 201.4,189.9 201.9,189.7 202.4,189.5 202.9,189.3 203.4,189.0 203.9,188.8 204.4,188.6 204.9,188.4 205.4,188.2 205.9,188.0 206.4,187.8 206.9,187.6 207.4,187.4 207.9,187.2 208.4,187.0 208.9,186.8 209.4,186.7 209.9,186.5 210.4,186.4 210.9,186.3 211.4,186.1 211.9,186.0 212.4,185.9 212.9,185.7 213.4,185.6 213.9,185.5 214.4,185.4 214.9,185.3 215.4,185.2 215.9,185.1 216.4,185.0 216.9,185.0 217.4,184.9 217.9,184.8 218.4,184.8 218.9,184.7 219.4,184.6 219.9,184.6 220.4,184.5 220.9,184.5 221.4,184.4 221.9,184.4 222.4,184.3 222.9,184.3 223.4,184.2 223.9,184.2 224.4,184.2 224.9,184.1 225.4,184.1 225.9,184.1 226.4,184.1 226.9,184.1 227.4,184.1 227.9,184.1 228.4,184.1 228.9,184.1 229.4,184.1 229.9,184.1 230.4,184.1 230.9,184.1 231.4,184.1 231.9,184.1 232.5,184.1 233.0,184.2 233.5,184.2 234.0,184.2 234.5,184.2 235.0,184.2 235.5,184.2 236.0,184.2 236.5,184.2 237.0,184.2 237.5,184.2 238.0,184.3 238.5,184.3 239.0,184.3 239.5,184.4 240.0,184.4 240.5,184.4 241.0,184.5 241.5,184.5 242.0,184.6 242.5,184.6 243.0,184.7 243.5,184.7 244.0,184.8 244.5,184.8 245.0,184.9 245.5,184.9 246.0,185.0 246.5,185.1 247.0,185.1 247.5,185.2 248.0,185.2 248.5,185.3 249.0,185.3 249.5,185.4 250.0,185.4 250.5,185.5 251.0,185.5 251.5,185.6 252.0,185.6 252.5,185.7 253.0,185.7 253.5,185.8 254.0,185.9 254.5,185.9 255.0,186.0 255.5,186.0 256.0,186.1 256.5,186.2 257.0,186.2 257.5,186.3 258.0,186.3 258.5,186.4 259.0,186.5 259.5,186.5 260.0,186.6 260.5,186.6 261.0,186.7 261.5,186.8 262.0,186.8 262.5,186.9 263.0,187.0 263.5,187.0 264.0,187.1 264.5,187.1 265.0,187.2 265.5,187.3 266.0,187.3 266.5,187.4 267.0,187.4 267.5,187.5 268.0,187.6 268.5,187.6 269.0,187.7 269.5,187.8 270.0,187.8 270.5,187.9 271.0,187.9 271.5,188.0 272.0,188.1 272.5,188.1 273.0,188.2 273.5,188.3 274.0,188.3 274.5,188.4 275.0,188.5 275.5,188.5 276.0,188.6 276.5,188.7 277.0,188.7 277.5,188.8 278.0,188.9 278.5,188.9 279.0,189.0 279.5,189.1 280.0,189.1 280.5,189.2 281.0,189.3 281.5,189.3 282.0,189.4 282.5,189.5 283.0,189.6 283.5,189.6 284.0,189.7 284.5,189.8 285.0,189.8 285.5,189.9 286.0,190.0 286.5,190.0 287.0,190.1 287.5,190.2 288.0,190.2 288.5,190.3 289.0,190.3 289.5,190.4 290.0,190.5 290.5,190.5 291.0,190.6 291.5,190.6 292.0,190.7 292.5,190.7 293.0,190.8 293.5,190.8 294.0,190.9 294.5,190.9 295.0,191.0 295.5,191.0 296.0,191.1 296.5,191.1 297.0,191.2 297.5,191.2 298.0,191.2 298.5,191.3 299.0,191.3 299.5,191.4 300.0,191.4 300.5,191.5 301.0,191.5 301.5,191.6 302.0,191.6 302.5,191.7 303.0,191.7 303.5,191.8 304.0,191.8 304.5,191.9 305.0,191.9 305.5,192.0 306.0,192.1 306.5,192.2 307.0,192.2 307.5,192.3 308.0,192.4 308.5,192.5 309.0,192.6 309.5,192.6 310.0,192.7 310.5,192.8 311.0,192.9 311.5,193.0 312.0,193.1 312.5,193.1 313.0,193.2 313.5,193.3 314.0,193.4 314.5,193.5 315.0,193.6 315.5,193.6 316.0,193.7 316.5,193.8 317.0,193.8 317.5,193.9 318.0,194.0 318.5,194.0 319.0,194.1 319.5,194.1 320.0,194.2 320.5,194.2 321.0,194.3 321.5,194.4 322.0,194.4 322.5,194.5 323.0,194.5 323.5,194.6 324.0,194.6 324.5,194.7 325.0,194.7 325.5,194.8 326.0,194.8 326.5,194.9 327.0,194.9 327.5,194.9 328.0,195.0 328.5,195.0 329.0,195.1 329.5,195.1 330.0,195.2 330.5,195.2 331.0,195.3 331.5,195.3 332.0,195.4 332.5,195.4 333.0,195.5 333.5,195.5 334.0,195.5 334.5,195.6 335.0,195.6 335.5,195.7 336.0,195.7 336.5,195.8 337.0,195.8 337.5,195.9 338.0,195.9 338.5,196.0 339.0,196.0 339.5,196.0 340.0,196.1 340.5,196.1 341.0,196.2 341.5,196.2 342.0,196.3 342.5,196.3 343.0,196.3 343.5,196.4 344.0,196.4 344.5,196.5 345.0,196.5 345.5,196.6 346.0,196.6 346.5,196.6 347.0,196.7 347.5,196.7 348.0,196.7 348.5,196.8 349.0,196.8 349.5,196.9 350.0,196.9 350.5,196.9 351.0,197.0 351.5,197.0 352.0,197.0 352.5,197.1 353.0,197.1 353.5,197.1 354.0,197.2 354.5,197.2 355.0,197.2 355.5,197.3 356.0,197.3 356.5,197.3 357.0,197.4 357.5,197.4 358.0,197.4 358.5,197.5 359.0,197.5 359.5,197.5 360.0,197.6 360.5,197.6 361.0,197.6 361.5,197.7 362.0,197.7 362.5,197.7 363.0,197.7 363.5,197.8 364.0,197.8 364.5,197.8 365.0,197.9 365.5,197.9 366.0,197.9 366.5,197.9 367.0,198.0 367.5,198.0 368.0,198.0 368.5,198.1 369.0,198.1 369.5,198.1 370.0,198.2 370.5,198.2 371.0,198.2 371.5,198.3 372.0,198.3 372.5,198.3 373.0,198.3 373.5,198.4 374.0,198.4 374.5,198.4 375.0,198.5 375.5,198.5 376.0,198.5 376.5,198.5 377.0,198.6 377.5,198.6 378.0,198.6 378.5,198.7 379.0,198.7 379.5,198.7 380.0,198.8 380.5,198.8 381.0,198.8 381.5,198.8 382.0,198.9 382.5,198.9 383.0,198.9 383.5,199.0 384.0,199.0 384.5,199.0 385.0,199.0 385.5,199.1 386.0,199.1 386.5,199.1 387.0,199.1 387.5,199.2 388.0,199.2 388.5,199.2 389.0,199.3 389.5,199.3 390.0,199.3 390.5,199.3 391.0,199.4 391.5,199.4 392.0,199.4 392.5,199.4 393.0,199.5 393.5,199.5 394.0,199.5 394.5,199.5 395.0,199.6 395.5,199.6 396.0,199.6 396.5,199.6 397.0,199.7 397.5,199.7 398.0,199.7 398.5,199.7 399.0,199.8 399.5,199.8 400.0,199.8 400.5,199.8 401.0,199.9 401.5,199.9 402.0,199.9 402.5,199.9 403.0,200.0 403.5,200.0 404.0,200.0 404.5,200.0 405.0,200.1 405.5,200.1 406.0,200.1 406.5,200.1 407.0,200.2 407.5,200.2 408.0,200.2 408.5,200.2 409.0,200.3 409.5,200.3 410.0,200.3"/>
<polyline stroke="#666666" stroke-dasharray="1.25 1.2 1.25 1.2 1.25 1.2 1.25 2.2" points="53.5,251.3 54.0,251.3 54.5,251.3 55.0,251.2 55.5,251.2 56.0,251.2 56.5,251.2 57.0,251.2 57.5,251.1 58.0,251.1 58.5,251.1 59.0,251.1 59.5,251.0 60.0,251.0 60.5,251.0 61.0,250.9 61.5,250.9 62.0,250.9 62.5,250.9 63.0,250.8 63.5,250.8 64.0,250.8 64.5,250.7 65.0,250.7 65.5,250.7 66.0,250.6 66.5,250.6 67.0,250.6 67.5,250.5 68.0,250.5 68.5,250.4 69.0,250.4 69.5,250.4 70.0,250.3 70.5,250.3 71.0,250.2 71.5,250.2 72.0,250.1 72.5,250.1 73.0,250.1 73.5,250.0 74.0,250.0 74.5,249.9 75.0,249.9 75.5,249.8 76.0,249.8 76.5,249.7 77.0,249.7 77.5,249.6 78.0,249.6 78.5,249.5 79.0,249.5 79.5,249.4 80.0,249.4 80.5,249.3 81.0,249.3 81.5,249.2 82.0,249.2 82.5,249.1 83.0,249.1 83.5,249.0 84.0,249.0 84.5,248.9 85.0,248.8 85.5,248.8 86.0,248.7 86.5,248.7 87.0,248.6 87.5,248.5 88.0,248.5 88.5,248.4 89.0,248.3 89.5,248.3 90.0,248.2 90.5,248.1 91.0,248.0 91.5,248.0 92.0,247.9 92.5,247.8 93.0,247.7 93.5,247.7 94.0,247.6 94.5,247.5 95.0,247.4 95.5,247.3 96.0,247.2 96.5,247.1 97.0,247.1 97.5,247.0 98.0,246.9 98.5,246.8 99.0,246.7 99.5,246.6 100.0,246.5 100.5,246.4 101.0,246.3 101.5,246.2 102.0,246.0 102.5,245.9 103.0,245.8 103.5,245.7 104.0,245.5 104.5,245.4 105.0,245.3 105.5,245.1 106.0,245.0 106.5,244.9 107.0,244.7 107.5,244.6 108.0,244.4 108.5,244.3 109.0,244.2 109.5,244.0 110.0,243.9 110.5,243.7 111.0,243.6 111.5,243.4 112.0,243.3 112.5,243.1 113.0,243.0 113.5,242.8 114.0,242.6 114.5,242.5 115.0,242.3 115.5,242.2 116.0,242.0 116.5,241.9 117.0,241.7 117.5,241.6 118.0,241.4 118.5,241.3 119.0,241.1 119.5,240.9 120.0,240.8 120.5,240.6 121.0,240.5 121.5,240.3 122.0,240.2 122.5,240.1 123.0,239.9 123.5,239.8 124.0,239.6 124.5,239.5 125.0,239.4 125.5,239.2 126.0,239.1 126.5,239.0 127.0,238.9 127.5,238.7 128.0,238.6 128.5,238.5 129.0,238.3 129.5,238.2 130.0,238.0 130.5,237.8 131.0,237.6 131.5,237.4 132.0,237.2 132.5,237.0 133.0,236.8 133.5,236.6 134.0,236.4 134.5,236.1 135.0,235.9 135.5,235.7 136.0,235.4 136.5,235.2 137.0,235.0 137.5,234.7 138.0,234.5 138.5,234.3 139.0,234.1 139.5,233.9 140.0,233.7 140.5,233.5 141.0,233.3 141.5,233.1 142.0,232.9 142.5,232.7 143.0,232.5 143.5,232.3 144.0,232.1 144.5,231.9 145.0,231.7 145.5,231.5 146.0,231.3 146.5,231.1 147.0,230.9 147.5,230.7 148.0,230.5 148.5,230.3 149.0,230.1 149.5,229.9 150.0,229.7 150.5,229.5 151.0,229.3 151.5,229.1 152.0,228.8 152.5,228.6 153.0,228.4 153.5,228.2 154.0,228.0 154.5,227.8 155.0,227.6 155.5,227.3 156.0,227.1 156.5,226.9 157.0,226.7 157.5,226.4 158.0,226.2 158.5,225.9 159.0,225.7 159.5,225.4 160.0,225.2 160.5,224.9 161.0,224.7 161.5,224.4 162.0,224.2 162.5,223.9 163.0,223.6 163.5,223.4 164.0,223.1 164.5,222.8 165.0,222.6 165.5,222.3 166.0,222.0 166.5,221.8 167.0,221.5 167.5,221.2 168.0,221.0 168.5,220.7 169.0,220.5 169.5,220.2 170.0,220.0 170.5,219.7 171.0,219.5 171.5,219.3 172.0,219.0 172.5,218.8 173.0,218.6 173.5,218.3 174.0,218.1 174.5,217.9 175.0,217.6 175.5,217.4 176.0,217.2 176.5,217.0 177.0,216.7 177.5,216.5 178.0,216.3 178.5,216.1 179.0,215.8 179.5,215.6 180.0,215.4 180.5,215.2 181.0,215.0 181.5,214.7 182.0,214.5 182.5,214.3 183.0,214.1 183.5,213.9 184.0,213.7 184.5,213.5 185.0,213.3 185.5,213.1 186.0,212.9 186.5,212.7 187.0,212.5 187.5,212.3 188.0,212.2 188.5,212.0 189.0,211.8 189.5,211.6 190.0,211.5 190.5,211.3 191.0,211.1 191.5,211.0 192.0,210.8 192.5,210.6 193.0,210.5 193.5,210.3 194.0,210.2 194.5,210.0 195.0,209.9 195.5,209.7 196.0,209.5 196.5,209.4 197.0,209.2 197.5,209.1 198.0,208.9 198.5,208.8 199.0,208.6 199.5,208.5 200.0,208.3 200.5,208.2 201.0,208.0 201.5,207.9 202.0,207.7 202.5,207.6 203.0,207.4 203.5,207.3 204.0,207.2 204.5,207.0 205.0,206.9 205.5,206.7 206.0,206.6 206.5,206.5 207.0,206.3 207.5,206.2 208.0,206.0 208.5,205.9 209.0,205.8 209.5,205.7 210.0,205.5 210.5,205.4 211.0,205.3 211.5,205.1 212.0,205.0 212.5,204.9 213.0,204.8 213.5,204.6 214.0,204.5 214.5,204.4 215.0,204.3 215.5,204.2 216.0,204.0 216.5,203.9 217.0,203.8 217.5,203.7 218.0,203.6 218.5,203.5 219.0,203.3 219.5,203.2 220.0,203.1 220.5,203.0 221.0,202.9 221.5,202.8 222.0,202.7 222.5,202.6 223.0,202.5 223.5,202.4 224.0,202.3 224.5,202.2 225.0,202.1 225.5,202.0 226.0,201.9 226.5,201.8 227.0,201.7 227.5,201.6 228.0,201.5 228.5,201.5 229.0,201.4 229.5,201.3 230.0,201.2 230.5,201.1 231.0,201.0 231.5,200.9 232.0,200.8 232.5,200.8 233.0,200.7 233.5,200.6 234.0,200.5 234.5,200.4 235.0,200.4 235.5,200.3 236.0,200.2 236.5,200.1 237.0,200.0 237.5,200.0 238.0,199.9 238.5,199.8 239.0,199.7 239.5,199.7 240.0,199.6 240.5,199.5 241.0,199.4 241.5,199.4 242.0,199.3 242.5,199.2 243.0,199.2 243.5,199.1 244.0,199.0 244.5,198.9 245.0,198.9 245.5,198.8 246.0,198.7 246.5,198.7 247.0,198.6 247.5,198.6 248.0,198.5 248.5,198.4 249.0,198.4 249.5,198.3 250.0,198.3 250.5,198.2 251.0,198.1 251.5,198.1 252.0,198.0 252.5,198.0 253.0,197.9 253.5,197.9 254.0,197.8 254.5,197.7 255.0,197.7 255.5,197.6 256.0,197.6 256.5,197.5 257.0,197.5 257.5,197.4 258.0,197.4 258.5,197.3 259.0,197.3 259.5,197.3 260.0,197.2 260.5,197.2 261.0,197.1 261.5,197.1 262.0,197.1 262.5,197.1 263.0,197.0 263.5,197.0 264.0,197.0 264.5,196.9 265.0,196.9 265.5,196.9 266.0,196.9 266.5,196.8 267.0,196.8 267.5,196.8 268.0,196.8 268.5,196.7 269.0,196.7 269.5,196.7 270.0,196.7 270.5,196.7 271.0,196.6 271.5,196.6 272.0,196.6 272.5,196.6 273.0,196.6 273.5,196.5 274.0,196.5 274.5,196.5 275.0,196.5 275.5,196.5 276.0,196.4 276.5,196.4 277.0,196.4 277.5,196.4 278.0,196.3 278.5,196.3 279.0,196.3 279.5,196.3 280.0,196.3 280.5,196.2 281.0,196.2 281.5,196.2 282.0,196.2 282.5,196.1 283.0,196.1 283.5,196.1 284.0,196.1 284.5,196.1 285.0,196.0 285.5,196.0 286.0,196.0 286.5,196.0 287.0,196.0 287.5,196.0 288.0,196.0 288.5,195.9 289.0,195.9 289.5,195.9 290.0,195.9 290.5,195.9 291.0,195.9 291.5,195.9 292.0,195.9 292.5,195.9 293.0,195.9 293.5,195.9 294.0,195.9 294.5,195.9 295.0,195.9 295.5,195.9 296.0,195.9 296.5,195.9 297.0,195.9 297.5,195.9 298.0,195.9 298.5,195.9 299.0,195.9 299.5,195.9 300.0,196.0 300.5,196.0 301.0,196.0 301.5,196.0 302.0,196.0 302.5,196.0 303.0,196.0 303.5,196.0 304.0,196.0 304.5,196.0 305.0,196.0 305.5,196.0 306.0,196.0 306.5,196.0 307.0,196.1 307.5,196.1 308.0,196.1 308.5,196.1 309.0,196.1 309.5,196.1 310.0,196.1 310.5,196.1 311.0,196.1 311.5,196.1 312.0,196.1 312.5,196.2 313.0,196.2 313.5,196.2 314.0,196.2 314.5,196.2 315.0,196.2 315.5,196.2 316.0,196.3 316.5,196.3 317.0,196.3 317.5,196.3 318.0,196.3 318.5,196.4 319.0,196.4 319.5,196.4 320.0,196.4 320.5,196.4 321.0,196.5 321.5,196.5 322.0,196.5 322.5,196.5 323.0,196.5 323.5,196.6 324.0,196.6 324.5,196.6 325.0,196.6 325.5,196.6 326.0,196.7 326.5,196.7 327.0,196.7 327.5,196.7 328.0,196.7 328.5,196.7 329.0,196.8 329.5,196.8 330.0,196.8 330.5,196.8 331.0,196.8 331.5,196.8 332.0,196.9 332.5,196.9 333.0,196.9 333.5,196.9 334.0,196.9 334.5,196.9 335.0,197.0 335.5,197.0 336.0,197.0 336.5,197.0 337.0,197.0 337.5,197.0 338.0,197.0 338.5,197.1 339.0,197.1 339.5,197.1 340.0,197.1 340.5,197.1 341.0,197.1 341.5,197.1 342.0,197.1 342.5,197.2 343.0,197.2 343.5,197.2 344.0,197.2 344.5,197.2 345.0,197.2 345.5,197.3 346.0,197.3 346.5,197.3 347.0,197.3 347.5,197.3 348.0,197.3 348.5,197.3 349.0,197.4 349.5,197.4 350.0,197.4 350.5,197.4 351.0,197.4 351.5,197.5 352.0,197.5 352.5,197.5 353.0,197.5 353.5,197.5 354.0,197.5 354.5,197.6 355.0,197.6 355.5,197.6 356.0,197.6 356.5,197.6 357.0,197.7 357.5,197.7 358.0,197.7 358.5,197.7 359.0,197.8 359.5,197.8 360.0,197.8 360.5,197.8 361.0,197.8 361.5,197.9 362.0,197.9 362.5,197.9 363.0,197.9 363.5,197.9 364.0,198.0 364.5,198.0 365.0,198.0 365.5,198.0 366.0,198.1 366.5,198.1 367.0,198.1 367.5,198.1 368.0,198.2 368.5,198.2 369.0,198.2 369.5,198.2 370.0,198.2 370.5,198.3 371.0,198.3 371.5,198.3 372.0,198.3 372.5,198.4 373.0,198.4 373.5,198.4 374.0,198.4 374.5,198.5 375.0,198.5 375.5,198.5 376.0,198.6 376.5,198.6 377.0,198.6 377.5,198.6 378.0,198.7 378.5,198.7 379.0,198.7 379.5,198.7 380.0,198.8 380.5,198.8 381.0,198.8 381.5,198.9 382.0,198.9 382.5,198.9 383.0,198.9 383.5,199.0 384.0,199.0 384.5,199.0 385.0,199.0 385.5,199.1 386.0,199.1 386.5,199.1 387.0,199.1 387.5,199.2 388.0,199.2 388.5,199.2 389.0,199.3 389.5,199.3 390.0,199.3 390.5,199.3 391.0,199.4 391.5,199.4 392.0,199.4 392.5,199.4 393.0,199.5 393.5,199.5 394.0,199.5 394.5,199.5 395.0,199.6 395.5,199.6 396.0,199.6 396.5,199.6 397.0,199.7 397.5,199.7 398.0,199.7 398.5,199.7 399.0,199.8 399.5,199.8 400.0,199.8 400.5,199.8 401.0,199.9 401.5,199.9 402.0,199.9 402.5,199.9 403.0,200.0 403.5,200.0 404.0,200.0 404.5,200.0 405.0,200.1 405.5,200.1 406.0,200.1 406.5,200.1 407.0,200.2 407.5,200.2 408.0,200.2 408.5,200.2 409.0,200.3 409.5,200.3 410.0,200.3"/>
</g>
<g fill="none" stroke-width="1.5">
<line x1="99" y1="23.3" x2="123" y2="23.3" stroke="#ff0000"/>
<line x1="99.2" y1="42.4" x2="122.5" y2="42.4" stroke="#0000ff" stroke-width="1.35" stroke-dasharray="1.6 1.4"/>
<line x1="98.9" y1="61.6" x2="122.5" y2="61.6" stroke="#000" stroke-dasharray="1.5 1 1.5 3.2"/>
<line x1="98.9" y1="80.6" x2="123.6" y2="80.6" stroke="#ff4500" stroke-dasharray="4 0.8 0.8 1.2 0.8 1" stroke-dashoffset="6.8"/>
<line x1="98.9" y1="99.8" x2="122.5" y2="99.8" stroke="#666666" stroke-dasharray="1.25 1.2 1.25 1.2 1.25 1.2 1.25 2.55"/>
</g>
<g fill="none" stroke="#000" stroke-linecap="square">
<line x1="53.3" y1="10.15" x2="410.3" y2="10.15" stroke-width="1.7"/>
<line x1="53.3" y1="271.15" x2="410.3" y2="271.15" stroke-width="1.7"/>
<line x1="53.3" y1="10.15" x2="53.3" y2="271.15" stroke-width="1.4"/>
<line x1="410.3" y1="10.15" x2="410.3" y2="271.15" stroke-width="1.4"/>
<line x1="53.3" y1="205.90" x2="57.5" y2="205.90" stroke-width="1.4" stroke-linecap="butt"/><line x1="410.3" y1="205.90" x2="406.1" y2="205.90" stroke-width="1.4" stroke-linecap="butt"/>
<line x1="53.3" y1="140.65" x2="57.5" y2="140.65" stroke-width="1.4" stroke-linecap="butt"/><line x1="410.3" y1="140.65" x2="406.1" y2="140.65" stroke-width="1.4" stroke-linecap="butt"/>
<line x1="53.3" y1="75.40" x2="57.5" y2="75.40" stroke-width="1.4" stroke-linecap="butt"/><line x1="410.3" y1="75.40" x2="406.1" y2="75.40" stroke-width="1.4" stroke-linecap="butt"/>
</g>
<g id="txt" opacity="0.999">
<text text-anchor="end" transform="translate(48.30,274.95) rotate(0.03)">0</text>
<text text-anchor="end" transform="translate(48.30,209.70) rotate(0.03)">0.5</text>
<text text-anchor="end" transform="translate(48.30,144.45) rotate(0.03)"><tspan class="h">1</tspan></text><path class="g" transform="translate(41.93,144.45) scale(0.005859)" d="M590 0V-1140C520 -1080 420 -1020 230 -935V-1105C380 -1175 560 -1300 650 -1466H765V0Z"/>
<text text-anchor="end" transform="translate(48.30,79.20) rotate(0.03)"><tspan class="h">1</tspan>.5</text><path class="g" transform="translate(31.92,79.20) scale(0.005859)" d="M590 0V-1140C520 -1080 420 -1020 230 -935V-1105C380 -1175 560 -1300 650 -1466H765V0Z"/>
<text text-anchor="end" transform="translate(48.30,13.95) rotate(0.03)">2</text>
<text transform="translate(65.10,25.45) rotate(0.03)">T</text><text class="s" transform="translate(72.03,30.20) rotate(0.03) scale(1.0,1.03)">0</text><text transform="translate(76.87,25.45) rotate(0.03)">/<tspan class="h">1</tspan>0</text><path class="g" transform="translate(80.50,25.45) scale(0.005859)" d="M590 0V-1140C520 -1080 420 -1020 230 -935V-1105C380 -1175 560 -1300 650 -1466H765V0Z"/>
<text transform="translate(81.18,45.15) rotate(0.03)">T</text><text class="s" transform="translate(88.21,48.85) rotate(0.03) scale(1.0,1.03)">0</text>
<text transform="translate(74.51,64.22) rotate(0.03)">2T</text><text class="s" transform="translate(88.21,67.92) rotate(0.03) scale(1.0,1.03)">0</text>
<text transform="translate(74.51,83.29) rotate(0.03)">5T</text><text class="s" transform="translate(88.21,86.99) rotate(0.03) scale(1.0,1.03)">0</text>
<text transform="translate(67.83,102.36) rotate(0.03)"><tspan class="h">1</tspan>0T</text><path class="g" transform="translate(68.13,102.36) scale(0.005859)" d="M590 0V-1140C520 -1080 420 -1020 230 -935V-1105C380 -1175 560 -1300 650 -1466H765V0Z"/><text class="s" transform="translate(88.21,106.06) rotate(0.03) scale(1.0,1.03)">0</text>
<text transform="translate(49.90,287.50) rotate(0.03)">0</text>
<text transform="translate(158.30,286.90) rotate(0.03)">2</text><text style="stroke-width:0.05px" transform="translate(165.27,286.90) rotate(0.03) scale(0.84,1.0)">Δ</text><text transform="translate(176.32,286.90) rotate(0.03)">+2E</text><text class="s" transform="translate(198.01,290.60) rotate(0.03) scale(1.0,1.03)">C</text>
<text transform="translate(211.40,286.90) rotate(0.03)">+6E</text><text class="s" transform="translate(233.09,290.60) rotate(0.03) scale(1.0,1.03)">C</text>
<text transform="translate(244.20,286.90) rotate(0.03)">+<tspan class="h">1</tspan>0E</text><path class="g" transform="translate(251.51,286.90) scale(0.005859)" d="M590 0V-1140C520 -1080 420 -1020 230 -935V-1105C380 -1175 560 -1300 650 -1466H765V0Z"/><text class="s" transform="translate(272.56,290.60) rotate(0.03) scale(1.0,1.03)">C</text>
<text transform="translate(279.20,286.90) rotate(0.03)">+</text><text transform="translate(287.21,286.90) rotate(0.03)"><tspan class="h">1</tspan>4E</text><path class="g" transform="translate(287.51,286.90) scale(0.005859)" d="M590 0V-1140C520 -1080 420 -1020 230 -935V-1105C380 -1175 560 -1300 650 -1466H765V0Z"/><text class="s" transform="translate(308.56,290.60) rotate(0.03) scale(1.0,1.03)">C</text>
<text transform="translate(315.20,286.90) rotate(0.03)">+</text><text transform="translate(323.21,286.90) rotate(0.03)"><tspan class="h">1</tspan>8E</text><path class="g" transform="translate(323.51,286.90) scale(0.005859)" d="M590 0V-1140C520 -1080 420 -1020 230 -935V-1105C380 -1175 560 -1300 650 -1466H765V0Z"/><text class="s" transform="translate(344.56,290.60) rotate(0.03) scale(1.0,1.03)">C</text>
<text transform="translate(350.90,286.90) rotate(0.03)">+</text><text transform="translate(358.31,286.90) rotate(0.03)">22</text><text transform="translate(372.56,286.90) rotate(0.03)">E</text><text class="s" transform="translate(379.76,290.60) rotate(0.03) scale(1.0,1.03)">C</text>
<text transform="translate(386.70,286.90) rotate(0.03)">+</text><text transform="translate(393.91,286.90) rotate(0.03)">26</text><text transform="translate(407.56,286.90) rotate(0.03)">E</text><text class="s" transform="translate(415.56,290.60) rotate(0.03) scale(1.0,1.03)">C</text>
<text transform="translate(225.00,304.60) rotate(0.03)">eV</text>
<text transform="translate(12.8,140.3) rotate(-89.97)" text-anchor="middle">RG</text>
</g>
</svg></body></html>
